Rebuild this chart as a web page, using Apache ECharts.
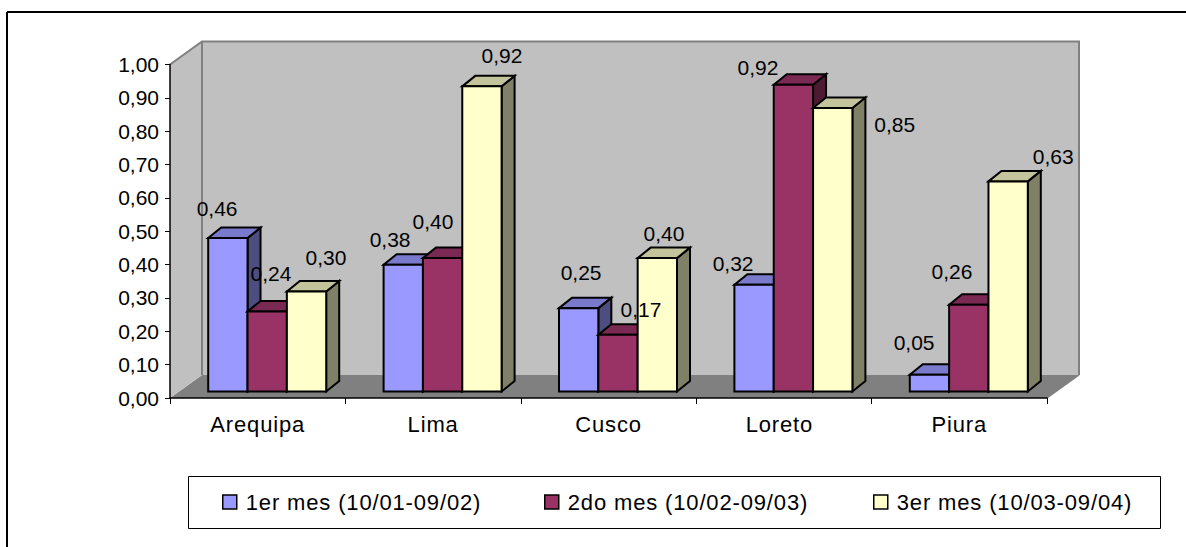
<!DOCTYPE html>
<html><head><meta charset="utf-8">
<style>
html,body{margin:0;padding:0;background:#fff}
#c{width:1186px;height:547px}
text[style*="22px"]{letter-spacing:.85px}
</style>
<script src="https://cdn.jsdelivr.net/npm/echarts@6/dist/echarts.min.js"></script>
</head><body><div id="c"></div>
<script>
const categories = ['Arequipa','Lima','Cusco','Loreto','Piura'];
const seriesNames = ['1er mes (10/01-09/02)','2do mes (10/02-09/03)','3er mes (10/03-09/04)'];
const mes1 = [0.46,0.38,0.25,0.32,0.05];
const mes2 = [0.24,0.40,0.17,0.92,0.26];
const mes3 = [0.30,0.915,0.40,0.85,0.63];
const yTicks = {min:0,max:1,interval:0.1};

// presentation only
const colors = [
  {front:'#9999ff',top:'#7a7acc',side:'#4d4d80'},
  {front:'#993366',top:'#7a2952',side:'#4d1a33'},
  {front:'#ffffcc',top:'#c4c49c',side:'#808066'}
];
const labelNudge = [
  [[-10.8,-30],[-13.2,-24.8],[2.4,-36],[-21,-21],[-15.4,-32]],
  [[3.8,-37.5],[-9.6,-37],[23,-25],[-35.4,-17],[-16.8,-33]],
  [[19.4,-33.5],[20,-30.7],[6.6,-25],[62,16],[45,-25]]
];
const legendLefts=[222,544,873];
const FONT='"Liberation Sans",Arial,sans-serif';
const wall={dx:32,dy:-23}, barFront={dx:9.5,dy:-6.5}, barDepth={dx:13,dy:-10.5}, groupFrac=118/175.4;

function poly(points,fill,stroke,lw,z2){
  return {type:'polygon',shape:{points},z2:z2||0,style:{fill,stroke:stroke||null,lineWidth:lw||0,lineJoin:'miter'}};
}
function renderWalls(params,api){
  const g=params.coordSys, l=g.x, r=g.x+g.width, t=g.y, b=g.y+g.height, dx=wall.dx, dy=wall.dy, edge='#808080';
  return {type:'group',silent:true,children:[
    poly([[l,b],[l+dx,b+dy],[r+dx,b+dy],[r,b]],'#808080'),
    poly([[l,t],[l+dx,t+dy],[l+dx,b+dy],[l,b]],'#c0c0c0'),
    poly([[l+dx,t+dy],[r+dx,t+dy],[r+dx,b+dy],[l+dx,b+dy]],'#c0c0c0'),
    {type:'polyline',shape:{points:[[l,t],[l+dx,t+dy],[r+dx,t+dy],[r+dx,b+dy]]},style:{fill:null,stroke:edge,lineWidth:2}},
    {type:'line',shape:{x1:l+dx,y1:t+dy,x2:l+dx,y2:b+dy},style:{stroke:edge,lineWidth:2}},
    {type:'line',shape:{x1:r+dx,y1:b+dy,x2:r,y2:b},style:{stroke:edge,lineWidth:1.5}}
  ]};
}
function makeBar(s){
  return function(params,api){
    const cat=api.value(0), val=api.value(1);
    const p0=api.coord([cat,0]), p1=api.coord([cat,val]);
    const w=api.size([1,0])[0]*groupFrac/3;
    const x0=p0[0]-1.5*w+s*w+barFront.dx, x1=x0+w;
    const yb=p0[1]+barFront.dy, yt=p1[1]+barFront.dy;
    const dx=barDepth.dx, dy=barDepth.dy, c=colors[s], k='#000', lw=2;
    const n=labelNudge[s][cat];
    return {type:'group',children:[
      poly([[x1,yt],[x1+dx,yt+dy],[x1+dx,yb+dy],[x1,yb]],c.side,k,lw),
      poly([[x0,yt],[x0+dx,yt+dy],[x1+dx,yt+dy],[x1,yt]],c.top,k,lw),
      poly([[x0,yt],[x1,yt],[x1,yb],[x0,yb]],c.front,k,lw),
      {type:'text',z2:100,silent:true,x:x0+w/2+n[0],y:yt+n[1],style:{
        text:val.toFixed(2).replace('.',','),font:'21px '+FONT,fill:'#000',align:'center',verticalAlign:'middle'}}
    ]};
  };
}
const allValues=[mes1,mes2,mes3];
const option={
  animation:false,backgroundColor:'#fff',tooltip:{show:false},
  grid:{left:170,right:139,top:64.5,bottom:149,containLabel:false},
  xAxis:{type:'category',data:categories,boundaryGap:true,
    axisLine:{lineStyle:{color:'#000',width:1.5}},
    axisTick:{show:true,length:6,lineStyle:{color:'#000',width:1}},
    axisLabel:{color:'#000',fontFamily:FONT,fontSize:22,margin:15,
      formatter:v=>v==='Loreto'?'{shift|'+v+'}':v,
      rich:{shift:{color:'#000',fontFamily:FONT,fontSize:22,padding:[0,9,0,0]}}},
    splitLine:{show:false}},
  yAxis:{type:'value',min:yTicks.min,max:yTicks.max,interval:yTicks.interval,
    axisLine:{show:true,lineStyle:{color:'#000',width:1.5}},
    axisTick:{show:true,length:5,lineStyle:{color:'#000',width:1}},
    axisLabel:{color:'#000',fontFamily:FONT,fontSize:21,margin:11,formatter:v=>v.toFixed(2).replace('.',',')},
    splitLine:{show:false}},
  legend:seriesNames.map((name,i)=>({left:legendLefts[i],top:491,padding:0,itemWidth:14,itemHeight:14,icon:'rect',data:[name],selectedMode:false,
    itemStyle:{borderColor:'#000',borderWidth:1.5},
    textStyle:{color:'#000',fontFamily:FONT,fontSize:22,padding:[0,0,0,4]}})),
  graphic:[
    {type:'line',z:-10,shape:{x1:7,y1:12,x2:1186,y2:12},style:{stroke:'#000',lineWidth:2}},
    {type:'line',z:-10,shape:{x1:7,y1:12,x2:7,y2:547},style:{stroke:'#000',lineWidth:2}},
    {type:'rect',z:-10,shape:{x:188.5,y:476.5,width:972,height:52},style:{fill:'#fff',stroke:'#000',lineWidth:1}}
  ],
  series:[
    {type:'custom',name:'walls',z:0,clip:false,renderItem:renderWalls,data:[[0,0]],encode:{x:0,y:1},silent:true},
    ...seriesNames.map((name,s)=>({
      type:'custom',name,z:2,clip:false,renderItem:makeBar(s),
      itemStyle:{color:colors[s].front},encode:{x:0,y:1},
      data:allValues[s].map((v,i)=>[i,v])
    }))
  ]
};
const chart=echarts.init(document.getElementById('c'),null,{renderer:'svg'});
chart.setOption(option);
</script></body></html>
